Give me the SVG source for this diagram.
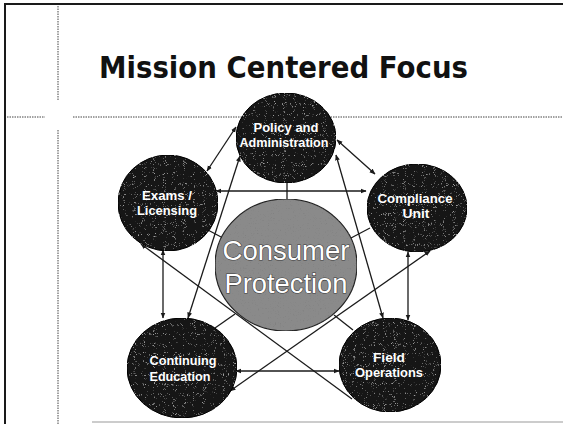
<svg xmlns="http://www.w3.org/2000/svg" width="563" height="424" viewBox="0 0 563 424">
  <style>
    .frame { stroke: #1a1a1a; stroke-width: 2; fill: none; }
    .dots { stroke: #444; stroke-width: 1; stroke-dasharray: 1.5 1; fill: none; }
    .title { font-family: "DejaVu Sans", Verdana, sans-serif; font-weight: bold; font-size: 31px; fill: #111; }
    .node { fill: #141414; stroke: #000; stroke-width: 1; filter: url(#grain); }
    .hub { fill: #8a8a8a; stroke: #222; stroke-width: 1.2; filter: url(#halftone); }
    .lbl { font-family: "Liberation Sans", Arial, sans-serif; font-weight: bold; font-size: 13px; fill: #fff; text-anchor: middle; }
    .hubtxt { font-family: "Liberation Sans", Arial, sans-serif; font-size: 28.5px; fill: #fff; stroke: #3a3a3a; stroke-width: 1.2; paint-order: stroke; text-anchor: middle; }
    .link { stroke: #1a1a1a; stroke-width: 1.3; fill: none; }
    .both { marker-start: url(#arr); marker-end: url(#arr); }
    .start { marker-start: url(#arr); }
  </style>
  <defs>
    <marker id="arr" viewBox="0 0 10 10" refX="9" refY="5" markerWidth="6" markerHeight="6" markerUnits="userSpaceOnUse" orient="auto-start-reverse">
      <path d="M0,1 L10,5 L0,9 z" fill="#1a1a1a"/>
    </marker>
    <!-- fine light speckle over the dark discs -->
    <filter id="grain" x="0" y="0" width="100%" height="100%">
      <feTurbulence type="turbulence" baseFrequency="1.9" numOctaves="1" seed="4" result="n"/>
      <feColorMatrix in="n" type="matrix" values="0 0 0 0 1  0 0 0 0 1  0 0 0 0 1  4 0 0 0 -1.4" result="d"/>
      <feComposite in="d" in2="SourceGraphic" operator="in" result="d2"/>
      <feComponentTransfer in="d2" result="d3">
        <feFuncA type="linear" slope="0.35"/>
      </feComponentTransfer>
      <feMerge><feMergeNode in="SourceGraphic"/><feMergeNode in="d3"/></feMerge>
    </filter>
    <!-- mottled screen over the grey hub -->
    <filter id="halftone" x="0" y="0" width="100%" height="100%">
      <feTurbulence type="turbulence" baseFrequency="1.6" numOctaves="1" seed="9" result="n"/>
      <feColorMatrix in="n" type="matrix" values="0 0 0 0 0.15  0 0 0 0 0.15  0 0 0 0 0.15  3 0 0 0 -0.9" result="d"/>
      <feComposite in="d" in2="SourceGraphic" operator="in" result="d2"/>
      <feComponentTransfer in="d2" result="d3">
        <feFuncA type="linear" slope="0.35"/>
      </feComponentTransfer>
      <feMerge><feMergeNode in="SourceGraphic"/><feMergeNode in="d3"/></feMerge>
    </filter>
  </defs>

  <rect width="563" height="424" fill="#fff"/>

  <!-- slide frame and guide lines -->
  <g id="frame">
    <line class="frame" x1="4" y1="4" x2="563" y2="4"/>
    <line class="frame" x1="5" y1="4" x2="5" y2="424"/>
    <line class="dots" x1="58" y1="6" x2="58" y2="100"/>
    <line class="dots" x1="58" y1="130" x2="58" y2="424"/>
    <line class="dots" x1="7" y1="117" x2="45" y2="117"/>
    <line class="dots" x1="73" y1="117" x2="563" y2="117"/>
    <line x1="92" y1="422" x2="563" y2="422" stroke="#999" stroke-width="1.2"/>
  </g>

  <text class="title" x="99" y="78" textLength="369" lengthAdjust="spacingAndGlyphs">Mission Centered Focus</text>

  <!-- connectors -->
  <g id="connectors">
    <line class="link both" x1="236" y1="127" x2="207" y2="171"/>
    <line class="link both" x1="337" y1="140" x2="375" y2="174"/>
    <line class="link both" x1="216" y1="191" x2="366" y2="191"/>
    <line class="link" x1="287" y1="180" x2="287" y2="200"/>
    <line class="link" x1="206" y1="229" x2="223" y2="238"/>
    <line class="link" x1="351" y1="238" x2="370" y2="228"/>
    <line class="link" x1="215" y1="328" x2="235" y2="314"/>
    <line class="link" x1="334" y1="315" x2="353" y2="330"/>
    <line class="link both" x1="163" y1="250" x2="163" y2="318"/>
    <line class="link both" x1="240" y1="156" x2="188" y2="318"/>
    <line class="link both" x1="336" y1="155" x2="383" y2="318"/>
    <line class="link both" x1="408" y1="252" x2="408" y2="320"/>
    <line class="link start" x1="141" y1="244" x2="352" y2="399"/>
    <line class="link both" x1="430" y1="251" x2="230" y2="391"/>
    <line class="link both" x1="236" y1="371" x2="339" y2="371"/>
  </g>

  <g id="consumer-protection">
    <ellipse class="hub" cx="286" cy="265" rx="71" ry="66"/>
    <text class="hubtxt" x="286" y="260" textLength="127" lengthAdjust="spacingAndGlyphs">Consumer</text>
    <text class="hubtxt" x="286" y="293" textLength="123" lengthAdjust="spacingAndGlyphs">Protection</text>
  </g>

  <g id="policy-administration">
    <ellipse class="node" cx="286" cy="138" rx="50" ry="45"/>
    <text class="lbl" x="286" y="132" textLength="65" lengthAdjust="spacingAndGlyphs">Policy and</text>
    <text class="lbl" x="284" y="147" textLength="89" lengthAdjust="spacingAndGlyphs">Administration</text>
  </g>

  <g id="exams-licensing">
    <ellipse class="node" cx="168" cy="203" rx="50" ry="48"/>
    <text class="lbl" x="167" y="200" textLength="50" lengthAdjust="spacingAndGlyphs">Exams /</text>
    <text class="lbl" x="167" y="215" textLength="60" lengthAdjust="spacingAndGlyphs">Licensing</text>
  </g>

  <g id="compliance-unit">
    <ellipse class="node" cx="417" cy="208" rx="50" ry="44"/>
    <text class="lbl" x="415" y="203" textLength="75" lengthAdjust="spacingAndGlyphs">Compliance</text>
    <text class="lbl" x="416" y="218" textLength="27" lengthAdjust="spacingAndGlyphs">Unit</text>
  </g>

  <g id="continuing-education">
    <ellipse class="node" cx="182" cy="368" rx="55" ry="50"/>
    <text class="lbl" x="183" y="365" textLength="67" lengthAdjust="spacingAndGlyphs">Continuing</text>
    <text class="lbl" x="180" y="381" textLength="61" lengthAdjust="spacingAndGlyphs">Education</text>
  </g>

  <g id="field-operations">
    <ellipse class="node" cx="390" cy="365" rx="51" ry="47"/>
    <text class="lbl" x="389" y="362" textLength="32" lengthAdjust="spacingAndGlyphs">Field</text>
    <text class="lbl" x="389" y="377" textLength="68" lengthAdjust="spacingAndGlyphs">Operations</text>
  </g>
</svg>
